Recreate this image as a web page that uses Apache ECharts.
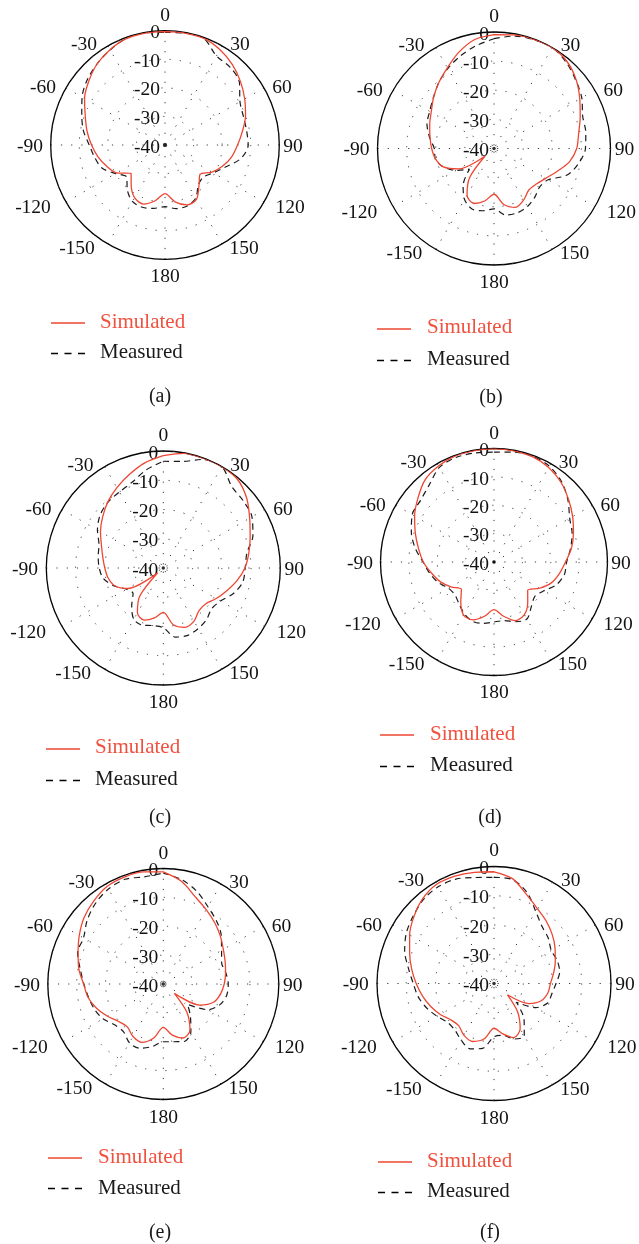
<!DOCTYPE html>
<html>
<head>
<meta charset="utf-8">
<title>Radiation patterns</title>
<script src="https://cdn.jsdelivr.net/npm/echarts@6/dist/echarts.min.js"></script>
<style>
  html, body { margin: 0; padding: 0; background: #ffffff; }
  #chart { width: 639px; height: 1244px; }
</style>
</head>
<body>
<div id="chart"></div>
<script>
// Azimuth angles (degrees, clockwise from 0 at the top; 190..350 are shown as -170..-10)
const angles = [0, 10, 20, 30, 40, 50, 60, 70, 80, 90, 100, 110, 120, 130, 140, 150, 160, 170,
                180, 190, 200, 210, 220, 230, 240, 250, 260, 270, 280, 290, 300, 310, 320, 330, 340, 350];

// Normalised gain (dB) at each angle
const simulatedA = [-0.3, -0.2, -0.3, -1.5, -3.3, -5.5, -7.8, -10, -12.5, -14.6, -16.3, -18.5, -21, -24, -21.5, -18, -17.7, -19.8,
                    -23, -20.2, -18, -18.7, -21.6, -24.5, -20.5, -18.3, -16.2, -14.3, -12.3, -10.3, -7.5, -5.2, -3, -1.5, -0.4, -0.2];
const measuredA  = [-0.6, -0.2, -0.3, -4, -4.5, -6, -9.7, -10.8, -11, -10.9, -13, -17.5, -20.5, -22.5, -21.8, -18.5, -17.3, -17.4,
                    -18.4, -17.5, -16.8, -17.2, -19.5, -22.5, -20, -16.5, -15, -13.5, -11, -9, -6.5, -4.5, -3, -1.6, -0.3, -0.1];

const simulatedB = [-0.9, -0.4, -0.1, 0, -1, -3.2, -6, -8.5, -10.5, -11.6, -13.7, -17, -19.5, -21, -21.4, -19.6, -18.5, -20.5,
                    -24.3, -21.7, -19.9, -21.5, -27, -36, -26, -21.5, -19.6, -18.6, -17.7, -16.5, -15.1, -12.9, -10.5, -8, -4.8, -2];
const measuredB  = [-2.3, -0.8, -0.2, 0, -1.4, -3.4, -5.2, -7.6, -8, -8.6, -10.5, -13.3, -18.5, -19.5, -18.2, -17, -16.5, -16.8,
                    -19.3, -18.3, -17.9, -19.8, -23.5, -29, -25, -21.5, -19.5, -19.5, -17.5, -15.5, -14.5, -12.8, -10.5, -8.3, -6.2, -4.2];

const simulatedC = [-1.6, -0.2, 0, 0, -0.5, -2.8, -5.9, -8.4, -10.3, -12.1, -14.5, -17, -19.1, -21, -21, -19, -18.4, -20.3,
                    -24.8, -22.7, -21, -22.3, -27.5, -37.5, -26, -22.3, -20.8, -20, -19, -17.5, -15.2, -12.9, -10.5, -8.3, -6, -3.5];
const measuredC  = [-3.5, -3, -0.5, 0, -3.6, -4.3, -5, -7.4, -11, -12, -12.4, -14.5, -17.4, -18.4, -17, -16.1, -15.5, -16,
                    -19.6, -20, -19.2, -19.8, -23.2, -26.5, -25.5, -22.1, -19.2, -18.1, -17.4, -16.6, -14, -11.8, -10.6, -10, -8.8, -6];

const simulatedD = [0, -0.2, -0.5, -1.5, -3.3, -5.7, -8, -10.2, -12.3, -14.8, -16.6, -18.5, -21.5, -24.5, -21.5, -18.6, -18, -20.6,
                    -23.2, -20.6, -18.3, -18.5, -21.8, -25, -22.5, -19.8, -17.6, -15.1, -13, -10.5, -7.7, -5, -2.2, -0.9, -0.2, -0.1];
const measuredD  = [-1.3, -0.7, -0.3, -1, -3, -6, -9.2, -10.7, -12.6, -14.4, -14.8, -16.6, -19.7, -21.2, -19.5, -16.8, -17.6, -19,
                    -18.9, -18, -17.8, -19, -20.8, -22, -21.5, -19, -17, -15, -11.8, -9, -6.7, -6.2, -4.5, -1.5, -0.8, -1];

const simulatedE = [-1.2, -3.9, -7.8, -10.3, -12.3, -14.2, -16, -17.2, -18.1, -18.9, -19.9, -21.5, -25.4, -35, -27.4, -21.5, -20.1, -22,
                    -25, -21, -18.5, -19, -20.6, -19.8, -17.7, -15.4, -13.5, -12.4, -10.3, -8.6, -6.4, -4.2, -2.5, -1, -0.6, -0.6];
const measuredE  = [-1.6, -3.3, -5.9, -9.1, -11.4, -13.8, -16.7, -18.5, -18, -17.5, -17.7, -19.1, -22.2, -29, -25.4, -20.9, -18.8, -19.7,
                    -20, -18, -16.3, -16.5, -18.5, -18, -15.9, -14.6, -13.7, -12.5, -10.8, -8.4, -8.1, -5.6, -3.5, -2, -1.4, -2.3];

const simulatedF = [-1.8, -3.6, -7.6, -10.4, -12.2, -14, -15.9, -17.7, -19.3, -20.7, -21.3, -22.8, -26.3, -34, -27.5, -22.1, -20.3, -22.5,
                    -24.7, -20.8, -18.9, -19.5, -21.2, -20.7, -18.8, -17, -15.2, -13.4, -11.4, -9.3, -6.7, -4.3, -2.1, -0.8, -0.9, -1.4];
const measuredF  = [-3.7, -3.9, -6.9, -11.5, -14.5, -15.8, -17.4, -17, -17.2, -18.8, -19.9, -20.5, -23.5, -30, -24, -19.3, -19.8, -22,
                    -21.8, -17.5, -16.2, -17.6, -19.2, -19.3, -17.6, -15.5, -13.7, -12.4, -10.3, -7.5, -5.4, -4, -2.5, -1.8, -2, -3.2];

// Axis ticks and their labels
const angleTicks = [0, 30, 60, 90, 120, 150, 180, 210, 240, 270, 300, 330];
const angleTickLabels = ['0', '30', '60', '90', '120', '150', '180', '-150', '-120', '-90', '-60', '-30'];
const radiusTicks = [-40, -30, -20, -10, 0];
const radiusTickLabels = ['-40', '-30', '-20', '-10', '0'];

const seriesNames = ['Simulated', 'Measured'];
const captions = ['(a)', '(b)', '(c)', '(d)', '(e)', '(f)'];
const simulatedSets = [simulatedA, simulatedB, simulatedC, simulatedD, simulatedE, simulatedF];
const measuredSets = [measuredA, measuredB, measuredC, measuredD, measuredE, measuredF];

// Page layout of the six polar plots and their legends
const layout = [
  { center: [165, 145],   radius: 114.3, leg: { x: 51,  y: 323,  tx: 100, ty: 322.5, y2: 353,  ty2: 352 },  cap: [160, 397] },
  { center: [494, 148.5], radius: 116.5, leg: { x: 377, y: 329,  tx: 427, ty: 327.5, y2: 360,  ty2: 359 },  cap: [491, 398] },
  { center: [163.3, 568], radius: 117,   leg: { x: 46,  y: 749,  tx: 95,  ty: 747,   y2: 780,  ty2: 779 },  cap: [160, 818] },
  { center: [494, 562],   radius: 113.5, leg: { x: 380, y: 735,  tx: 430, ty: 734,   y2: 766,  ty2: 765 },  cap: [490, 818] },
  { center: [163.3, 984], radius: 115.5, leg: { x: 48,  y: 1158, tx: 98,  ty: 1157,  y2: 1188, ty2: 1188 }, cap: [160, 1233] },
  { center: [494, 983.5], radius: 117,   leg: { x: 378, y: 1162, tx: 427, ty: 1161,  y2: 1192, ty2: 1191 }, cap: [490, 1233] }
];

// Where each angle label's centre sits relative to the plot centre, for a plot of radius 114.3 px
const LABEL_BASE_R = 114.3;
const angleLabelSpots = [[0, -129], [75, -100], [117, -56.5], [128, 1.5], [125, 63], [79, 103.5],
                         [0, 132], [-88, 103.5], [-132, 63], [-135, 1.5], [-122, -56.5], [-81, -100]];

const RED = '#ee4632';
const RED_TEXT = '#f0513f';
const INK = '#1a1a1a';
const FONT = '"Liberation Serif", "DejaVu Serif", serif';
const FONT_SIZE = 19.5;
const LABEL_MARGIN = -34;
const dotted = { color: '#3a3a3a', width: 1, type: [1.2, 9] };

function closedRing(values) {
  const pts = angles.map((a, i) => [values[i], a]);
  pts.push([values[0], 360]);
  return pts;
}

function textWidth(s) {
  let w = 0;
  for (const ch of s) w += (ch === '-' ? 0.333 : 0.5) * FONT_SIZE;
  return w;
}

// Rich-text paddings that move every angle label from its default anchor to its spot
function angleLabelRich(R) {
  const rich = {};
  const A = R + LABEL_MARGIN;
  const k = R / LABEL_BASE_R;
  const h = FONT_SIZE;
  angleTicks.forEach((deg, i) => {
    const t = deg * Math.PI / 180;
    const ax = A * Math.sin(t), ay = -A * Math.cos(t);
    const cx = angleLabelSpots[i][0] * k, cy = angleLabelSpots[i][1] * k;
    const w = textWidth(angleTickLabels[i]);
    let pl = 0, pr = 0, pt = 0, pb = 0;
    if (Math.abs(ax) / R < 0.3) {
      const d = 2 * (cx - ax);
      if (d >= 0) pl = d; else pr = -d;
    } else if (ax > 0) {
      pl = cx - ax - w / 2;
    } else {
      pr = ax - cx - w / 2;
    }
    if (Math.abs(ay) / R < 0.3) {
      const d = 2 * (cy - ay);
      if (d >= 0) pt = d; else pb = -d;
    } else if (ay > 0) {
      pt = cy - ay - h / 2;
    } else {
      pb = ay - cy - h / 2;
    }
    rich['t' + i] = {
      fontFamily: FONT, fontSize: FONT_SIZE, color: '#111',
      padding: [Math.max(pt, 0), Math.max(pr, 0), Math.max(pb, 0), Math.max(pl, 0)]
    };
  });
  return rich;
}

const polar = [], angleAxis = [], radiusAxis = [], series = [], graphic = [];

layout.forEach((p, i) => {
  polar.push({ center: p.center, radius: p.radius });

  angleAxis.push({
    polarIndex: i,
    type: 'value',
    min: 0,
    max: 360,
    interval: 30,
    startAngle: 90,
    clockwise: true,
    axisLine: { show: true, lineStyle: { color: '#000', width: 1.3 } },
    axisTick: { show: false },
    axisLabel: {
      margin: LABEL_MARGIN,
      color: '#111',
      fontFamily: FONT,
      fontSize: FONT_SIZE,
      formatter: v => {
        const k = angleTicks.indexOf(v);
        return k >= 0 ? '{t' + k + '|' + angleTickLabels[k] + '}' : '';
      },
      rich: angleLabelRich(p.radius)
    },
    splitLine: { show: true, lineStyle: dotted }
  });

  radiusAxis.push({
    polarIndex: i,
    type: 'value',
    min: radiusTicks[0],
    max: radiusTicks[radiusTicks.length - 1],
    interval: 10,
    axisLine: { show: false },
    axisTick: { show: false },
    axisLabel: {
      margin: 5,
      color: '#111',
      fontFamily: FONT,
      fontSize: FONT_SIZE,
      showMinLabel: true,
      showMaxLabel: true,
      formatter: v => {
        const k = radiusTicks.indexOf(v);
        return k >= 0 ? '{r|' + radiusTickLabels[k] + '}' : '';
      },
      rich: { r: { fontFamily: FONT, fontSize: FONT_SIZE, color: '#111', padding: [5, 0, 0, 0] } }
    },
    splitLine: { show: true, lineStyle: dotted },
    z: 3
  });

  series.push({
    name: seriesNames[1],
    type: 'line',
    coordinateSystem: 'polar',
    polarIndex: i,
    data: closedRing(measuredSets[i]),
    showSymbol: false,
    smooth: 0.3,
    lineStyle: { color: INK, width: 1.2, type: [6, 4.5] },
    z: 4
  });
  series.push({
    name: seriesNames[0],
    type: 'line',
    coordinateSystem: 'polar',
    polarIndex: i,
    data: closedRing(simulatedSets[i]),
    showSymbol: false,
    smooth: 0.3,
    lineStyle: { color: RED, width: 1.3 },
    z: 5
  });
  // centre marker of the polar grid
  series.push({
    type: 'scatter',
    coordinateSystem: 'polar',
    polarIndex: i,
    data: [[radiusTicks[0], 0]],
    symbolSize: 3.5,
    itemStyle: { color: '#000' },
    z: 6
  });

  const L = p.leg;
  graphic.push(
    { type: 'line', shape: { x1: L.x, y1: L.y, x2: L.x + 34, y2: L.y }, style: { stroke: RED, lineWidth: 1.4 } },
    { type: 'text', x: L.tx, y: L.ty, style: { text: seriesNames[0], fill: RED_TEXT, font: '21px ' + FONT, textVerticalAlign: 'middle' } },
    { type: 'line', shape: { x1: L.x, y1: L.y2 + 0.5, x2: L.x + 34, y2: L.y2 + 0.5 }, style: { stroke: '#000', lineWidth: 1.3, lineDash: [7, 6.5] } },
    { type: 'text', x: L.tx, y: L.ty2, style: { text: seriesNames[1], fill: INK, font: '21px ' + FONT, textVerticalAlign: 'middle' } },
    { type: 'text', x: p.cap[0], y: p.cap[1], style: { text: captions[i], fill: INK, font: '20px ' + FONT, textAlign: 'center', textVerticalAlign: 'middle' } }
  );
});

const chart = echarts.init(document.getElementById('chart'), null, { renderer: 'canvas' });
chart.setOption({
  animation: false,
  backgroundColor: '#ffffff',
  polar: polar,
  angleAxis: angleAxis,
  radiusAxis: radiusAxis,
  series: series,
  graphic: graphic
});
</script>
</body>
</html>
